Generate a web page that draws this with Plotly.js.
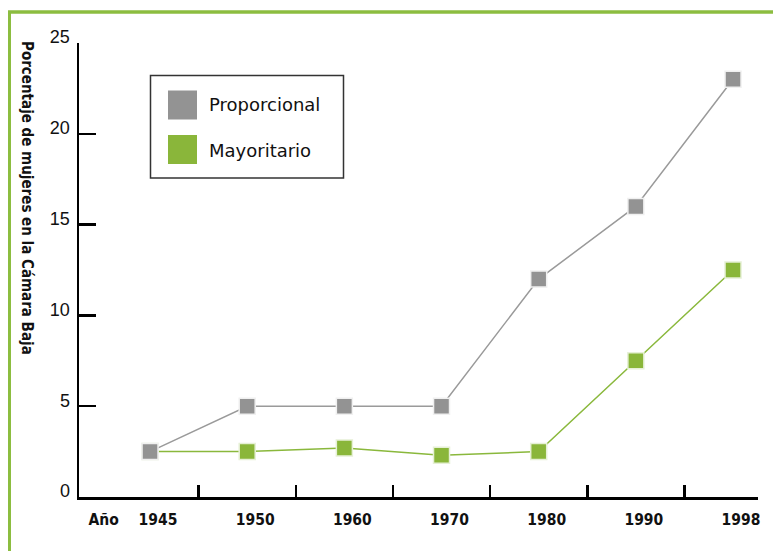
<!DOCTYPE html>
<html>
<head>
<meta charset="utf-8">
<script src="https://cdn.plot.ly/plotly-3.0.1.min.js"></script>
<style>html,body{margin:0;padding:0;background:#fff;}#chart{width:773px;height:551px;}</style>
</head>
<body>
<div id="chart"></div>
<script>
// ---- data ----
const years = ['1945', '1950', '1960', '1970', '1980', '1990', '1998'];
const proporcional = [2.5, 5, 5, 5, 12, 16, 23];
const mayoritario = [2.5, 2.5, 2.7, 2.3, 2.5, 7.5, 12.5];
const seriesNames = ['Proporcional', 'Mayoritario'];
const yTitle = 'Porcentaje de mujeres en la Cámara Baja';
const xLead = 'Año';

// ---- layout helpers ----
const W = 773, H = 551;
const L = 79, R = 758, T = 43, B = 497;
const px = x => (x - L) / (R - L);
const py = y => (B - y) / (B - T);

const idx = years.map((_, i) => i);
const xRange = [-0.731, 6.257];

const grayFill = '#939393', greenFill = '#8ab63a';
const frame = '#8cbd40';

const traces = [
  {
    x: idx, y: mayoritario, name: seriesNames[1], mode: 'lines+markers',
    line: {color: '#8ab83c', width: 1.5},
    marker: {symbol: 'square', size: 16, color: greenFill, line: {color: '#e6f0d6', width: 1.5}},
    showlegend: false
  },
  {
    x: idx, y: proporcional, name: seriesNames[0], mode: 'lines+markers',
    line: {color: '#9a9a9a', width: 1.5},
    marker: {symbol: 'square', size: 16, color: grayFill, line: {color: '#f0f0f0', width: 1.5}},
    showlegend: false
  },
  // invisible carrier so the label axis (x2) is drawn
  {x: idx, y: proporcional, xaxis: 'x2', yaxis: 'y', mode: 'markers', marker: {opacity: 0}, showlegend: false, hoverinfo: 'skip'}
];

const boldNarrow = 'Liberation Sans Narrow, DejaVu Sans Condensed, Arial, sans-serif';
const regular = 'Liberation Sans, Arial, sans-serif';
const legendFont = 'DejaVu Sans, Verdana, sans-serif';

const layout = {
  width: W, height: H,
  margin: {l: L, r: W - R, t: T, b: H - B, pad: 0},
  paper_bgcolor: '#fff', plot_bgcolor: '#fff',
  showlegend: false,
  xaxis: {
    type: 'linear', range: xRange, showgrid: false, zeroline: false,
    showline: true, linecolor: '#000', linewidth: 2.5,
    ticks: 'inside', ticklen: 12, tickwidth: 2.5, tickcolor: '#000',
    tickmode: 'array', tickvals: [0.5, 1.5, 2.5, 3.5, 4.5, 5.5, xRange[1] - 0.01],
    showticklabels: false, fixedrange: true
  },
  xaxis2: {
    type: 'linear', overlaying: 'x', anchor: 'y', side: 'bottom', range: xRange,
    showgrid: false, zeroline: false, showline: false, ticks: '',
    tickmode: 'array', tickvals: [-0.56].concat(idx), ticktext: [xLead].concat(years),
    tickfont: {family: boldNarrow, size: 15.5, color: '#111', weight: 'bold'},
    ticklabelstandoff: 11, ticklabelshift: 8, fixedrange: true
  },
  yaxis: {
    range: [0, 25], showgrid: false, zeroline: false, side: 'left',
    showline: true, linecolor: '#000', linewidth: 2.5,
    ticks: 'inside', ticklen: 17, tickwidth: 2.5, tickcolor: '#000',
    tickmode: 'array', tickvals: [0, 5, 10, 15, 20, 25],
    tickfont: {family: regular, size: 18, color: '#111'},
    ticklabelstandoff: 3, ticklabelshift: -6, fixedrange: true
  },
  shapes: [
    // frame
    {type: 'line', xref: 'paper', yref: 'paper', x0: px(9.5), x1: px(9.5), y0: py(11), y1: py(560), line: {color: frame, width: 3}},
    {type: 'line', xref: 'paper', yref: 'paper', x0: px(8), x1: px(780), y0: py(12), y1: py(12), line: {color: frame, width: 3.5}},
    // legend box
    {type: 'rect', xref: 'paper', yref: 'paper', x0: px(150.5), x1: px(343.5), y0: py(75.5), y1: py(178), line: {color: '#333', width: 1.5}, fillcolor: '#fff'},
    {type: 'rect', xref: 'paper', yref: 'paper', x0: px(168), x1: px(197), y0: py(90.5), y1: py(119.5), line: {width: 0}, fillcolor: grayFill},
    {type: 'rect', xref: 'paper', yref: 'paper', x0: px(168), x1: px(197), y0: py(135), y1: py(164), line: {width: 0}, fillcolor: greenFill}
  ],
  annotations: [
    {xref: 'paper', yref: 'paper', x: px(207), y: py(105), xanchor: 'left', yanchor: 'middle', showarrow: false,
     text: seriesNames[0], font: {family: legendFont, size: 18, color: '#111'}},
    {xref: 'paper', yref: 'paper', x: px(207), y: py(150), xanchor: 'left', yanchor: 'middle', showarrow: false,
     text: seriesNames[1], font: {family: legendFont, size: 18, color: '#111'}},
    {xref: 'paper', yref: 'paper', x: px(27), y: py(39), xanchor: 'center', yanchor: 'top', showarrow: false,
     textangle: 90, text: yTitle, font: {family: boldNarrow, size: 15, color: '#111', weight: 'bold'}}
  ]
};

Plotly.newPlot('chart', traces, layout, {displayModeBar: false, staticPlot: true});
</script>
</body>
</html>
